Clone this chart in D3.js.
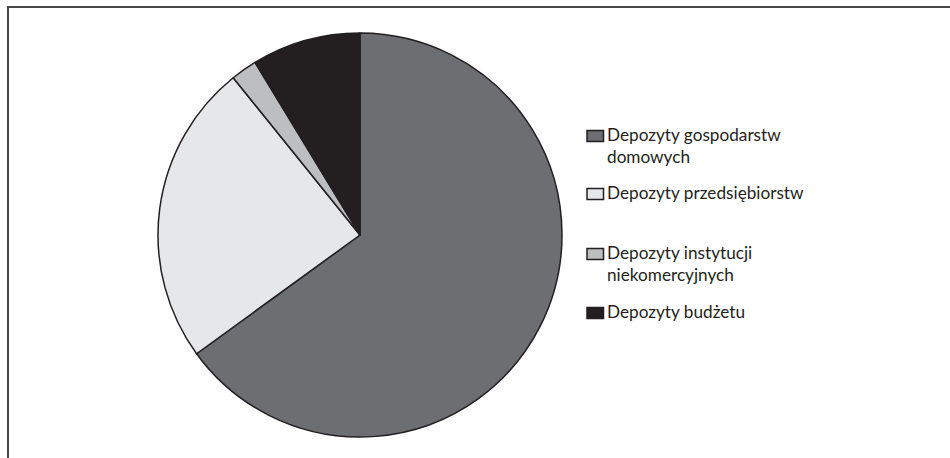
<!DOCTYPE html>
<html><head><meta charset="utf-8">
<script src="https://cdn.jsdelivr.net/npm/d3@7"></script>
<style>body{margin:0;background:#fff}svg{display:block}</style>
</head><body>
<script>
const categories = ["Depozyty gospodarstw domowych","Depozyty przedsiębiorstw","Depozyty instytucji niekomercyjnych","Depozyty budżetu"];
const legendLines = [["Depozyty gospodarstw","domowych"],["Depozyty przedsiębiorstw"],["Depozyty instytucji","niekomercyjnych"],["Depozyty budżetu"]];
const values = [65.0, 24.2, 2.1, 8.7];
const colors = ["#6d6e71","#e6e7e8","#bcbec0","#231f20"];

const W=950,H=458;
const svg=d3.select("body").append("svg").attr("width",W).attr("height",H);
svg.append("path").attr("d",`M8,${H} L8,7 L${W},7`).attr("fill","none").attr("stroke","#4a4a4a").attr("stroke-width",2);

const cx=360, cy=235, r=202;
const pie=d3.pie().sort(null).value(d=>d);
const arc=d3.arc().innerRadius(0).outerRadius(r);
const g=svg.append("g").attr("transform",`translate(${cx},${cy})`);
g.selectAll("path").data(pie(values)).join("path")
 .attr("d",arc).attr("fill",(d,i)=>colors[i]).attr("stroke","#231f20").attr("stroke-width",1.5).attr("stroke-linejoin","round");

const legY=[141,199,259,318];
const lg=svg.append("g");
legendLines.forEach((lines,i)=>{
  lg.append("rect").attr("x",587).attr("y",legY[i]-10.5).attr("width",16.5).attr("height",11)
    .attr("fill",colors[i]).attr("stroke","#231f20").attr("stroke-width",1.5);
  const t=lg.append("text").attr("x",607).attr("y",legY[i]).attr("font-family","Lato, 'Open Sans', sans-serif").attr("font-size",17.2).attr("fill","#231f20");
  lines.forEach((l,j)=>t.append("tspan").attr("x",607).attr("dy",j?22:0).text(l));
});
</script>
</body></html>
